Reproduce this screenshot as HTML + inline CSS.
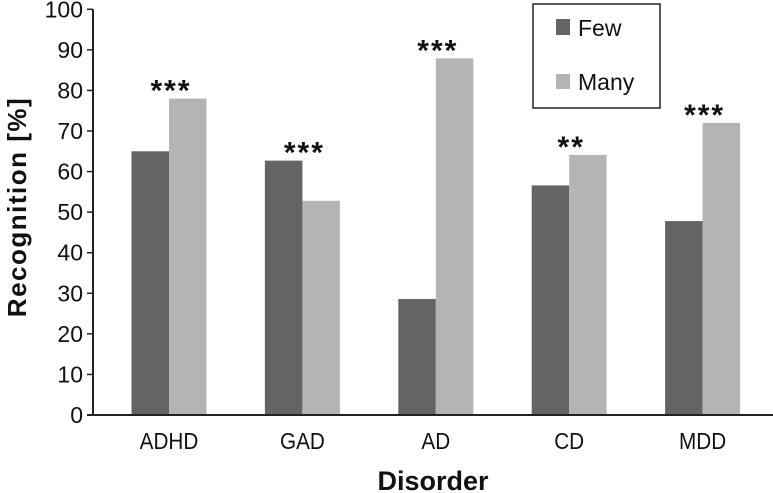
<!DOCTYPE html>
<html><head><meta charset="utf-8"><style>
html,body{margin:0;padding:0;background:#fff;}
svg{display:block;font-family:"Liberation Sans",sans-serif;}
</style></head><body>
<svg id="chart" width="773" height="493" viewBox="0 0 773 493"></svg>
<script>
const categories = ["ADHD","GAD","AD","CD","MDD"];
const fewValues = [65, 62.7, 28.6, 56.6, 47.8];
const manyValues = [78, 52.8, 87.9, 64.1, 72];
const significance = ["***","***","***","**","***"];
const yTicks = [0,10,20,30,40,50,60,70,80,90,100];

const NS = "http://www.w3.org/2000/svg";
const svg = document.getElementById("chart");
const y0 = 415, pxPerUnit = 4.057, axisX = 93;
function yScale(v){ return y0 - v * pxPerUnit; }
function xCenter(i){ return 169 + i * 133.4; }
const barW = 37.5;
function mk(tag, attrs, parent){
  const e = document.createElementNS(NS, tag);
  for (const k in attrs) e.setAttribute(k, attrs[k]);
  (parent || svg).appendChild(e);
  return e;
}

categories.forEach((c, i) => {
  const cx = xCenter(i);
  const b1 = mk("rect", {x: cx - barW, y: yScale(fewValues[i]), width: barW, height: y0 - yScale(fewValues[i]), fill: "#646464"});
  
  
  const b2 = mk("rect", {x: cx, y: yScale(manyValues[i]), width: barW, height: y0 - yScale(manyValues[i]), fill: "#b4b4b4"});
  
  
  const top = yScale(Math.max(fewValues[i], manyValues[i]));
  const s = mk("text", {x: cx + 2, y: top + 2, "text-anchor": "middle", "font-size": 30, "font-weight": "bold", "letter-spacing": 2, fill: "#111"});
  s.textContent = significance[i];
  
  
  const l = mk("text", {x: cx, y: 449, "text-anchor": "middle", "font-size": 23, fill: "#111", transform: "translate(" + cx + ",0) scale(0.9,1) translate(" + (-cx) + ",0)"});
  l.textContent = c;
  
  
});

yTicks.forEach(t => {
  const yy = yScale(t);
  const tk = mk("line", {x1: axisX - 6, x2: axisX, y1: yy, y2: yy, stroke: "#222", "stroke-width": 1.5});
  
  
  const tl = mk("text", {x: axisX - 10, y: yy + 8, "text-anchor": "end", "font-size": 23, fill: "#111"});
  tl.textContent = t;
  
  
});
const ya = mk("line", {x1: axisX, x2: axisX, y1: yScale(100), y2: y0, stroke: "#222", "stroke-width": 2});


const xa = mk("line", {x1: axisX - 6, x2: 773, y1: y0, y2: y0, stroke: "#222", "stroke-width": 2});



svg.insertAdjacentHTML("beforeend",
  '<text x="433" y="490" text-anchor="middle" font-size="27" font-weight="bold" fill="#111">Disorder</text>' +
  '<text transform="translate(26,207) rotate(-90)" text-anchor="middle" font-size="26" font-weight="bold" letter-spacing="1.5" fill="#111">Recognition [%]</text>' +
  '<g>' +
  '<rect x="533" y="4" width="127" height="104" fill="#fff" stroke="#222" stroke-width="1.5"/>' +
  '<rect x="556" y="19" width="14" height="16" fill="#646464"/>' +
  '<text x="578" y="36" font-size="23" fill="#111">Few</text>' +
  '<rect x="556" y="74" width="14" height="15" fill="#b4b4b4"/>' +
  '<text x="578" y="90" font-size="23" fill="#111">Many</text>' +
  '</g>');
</script>
</body></html>
